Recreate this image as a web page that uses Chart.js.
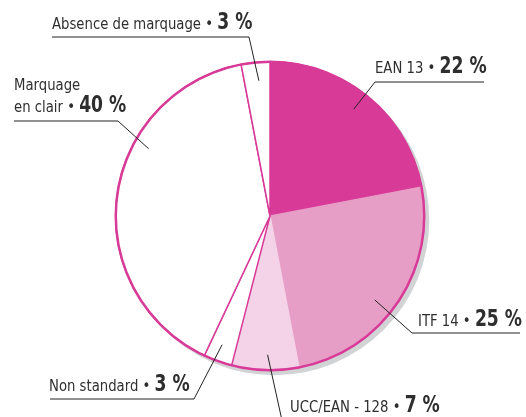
<!DOCTYPE html>
<html><head><meta charset="utf-8">
<script src="https://cdn.jsdelivr.net/npm/chart.js@4.4.0/dist/chart.umd.min.js"></script>
<style>html,body{margin:0;padding:0;background:#fff}#wrap{width:526px;height:417px;position:relative}</style>
</head><body><div id="wrap"><canvas id="c" width="526" height="417"></canvas></div>
<script>
const categories = ["EAN 13", "ITF 14", "UCC/EAN - 128", "Non standard", "Marquage en clair", "Absence de marquage"];
const values = [22, 25, 7, 3, 40, 3];
const valueLabels = ["22 %", "25 %", "7 %", "3 %", "40 %", "3 %"];
const fills = ["#d83a97", "#e79ec6", "#f4d2e7", "#ffffff", "#ffffff", "#ffffff"];
const PINK = "#d83a97";
const labelLayout = [
  {lines:["EAN 13"], x:375, y:73, uy:82, ux0:375, ux1:484, corner:375, rf:0.88, da:-1.5},
  {lines:["ITF 14"], x:418, y:326, uy:333, ux0:412, ux1:520, corner:412, rf:0.87, da:4.5},
  {lines:["UCC/EAN - 128"], x:290, y:412, uy:425, ux0:283, ux1:440, corner:283, rf:0.9, da:-0.8},
  {lines:["Non standard"], x:49, y:391, uy:399, ux0:50, ux1:194, corner:194, rf:0.89, da:0.6},
  {lines:["Marquage","en clair"], x:14, y:112, uy:121, ux0:14, ux1:118, corner:118, rf:0.9, da:21.8},
  {lines:["Absence de marquage"], x:52, y:29, uy:37, ux0:52, ux1:249, corner:249, rf:0.88, da:0.7}
];
const FONT = "'Liberation Sans Narrow','DejaVu Sans Condensed',sans-serif";

function drawScaled(ctx, s, x, y, sx){
  ctx.save();
  ctx.translate(x, y);
  ctx.scale(sx, 1);
  ctx.fillText(s, 0, 0);
  ctx.restore();
  return ctx.measureText(s).width * sx;
}

const shadowPlugin = {
  id:'shadow',
  beforeDatasetsDraw(chart){
    const arc = chart.getDatasetMeta(0).data[0];
    const ctx = chart.ctx;
    ctx.save();
    ctx.fillStyle = "#d2d3d5";
    ctx.beginPath();
    ctx.arc(arc.x+4, arc.y+4, arc.outerRadius+1, 0, Math.PI*2);
    ctx.fill();
    ctx.restore();
  },
  afterDatasetsDraw(chart){
    const meta = chart.getDatasetMeta(0);
    const arc = meta.data[0];
    const ctx = chart.ctx;
    ctx.save();
    ctx.strokeStyle = PINK;
    ctx.lineWidth = 2.5;
    ctx.beginPath();
    ctx.arc(arc.x, arc.y, arc.outerRadius, 0, Math.PI*2);
    ctx.stroke();
    meta.data.forEach((a, i) => {
      const L = labelLayout[i];
      const mid = (a.startAngle + a.endAngle)/2 + L.da*Math.PI/180;
      const px = a.x + Math.cos(mid)*a.outerRadius*L.rf;
      const py = a.y + Math.sin(mid)*a.outerRadius*L.rf;
      ctx.strokeStyle = "#222";
      ctx.lineWidth = 1;
      ctx.beginPath();
      ctx.moveTo(px, py);
      ctx.lineTo(L.corner, L.uy);
      ctx.moveTo(L.ux0, L.uy);
      ctx.lineTo(L.ux1, L.uy);
      ctx.stroke();
      ctx.fillStyle = "#2e2e2e";
      ctx.textBaseline = "alphabetic";
      ctx.textAlign = "left";
      const n = L.lines.length;
      L.lines.forEach((t, k) => {
        const yy = L.y - (n-1-k)*22;
        ctx.font = "16px " + FONT;
        let s = t;
        if (k === n-1) s = t + " \u2022 ";
        const w = drawScaled(ctx, s, L.x, yy, 0.92);
        if (k === n-1) {
          ctx.font = "bold 23px " + FONT;
          drawScaled(ctx, valueLabels[i], L.x + w, yy, 0.83);
        }
      });
    });
    ctx.restore();
  }
};

new Chart(document.getElementById('c'), {
  type: 'pie',
  data: {
    labels: categories,
    datasets: [{
      data: values,
      backgroundColor: fills,
      borderColor: fills.map(f => f === "#ffffff" ? PINK : f),
      borderWidth: 1.5,
      borderJoinStyle: 'miter'
    }]
  },
  options: {
    responsive: false,
    animation: false,
    layout: { padding: { left: 115, right: 101, top: 61, bottom: 46 } },
    plugins: { legend: { display: false }, tooltip: { enabled: false } }
  },
  plugins: [shadowPlugin]
});
</script>
</body></html>
